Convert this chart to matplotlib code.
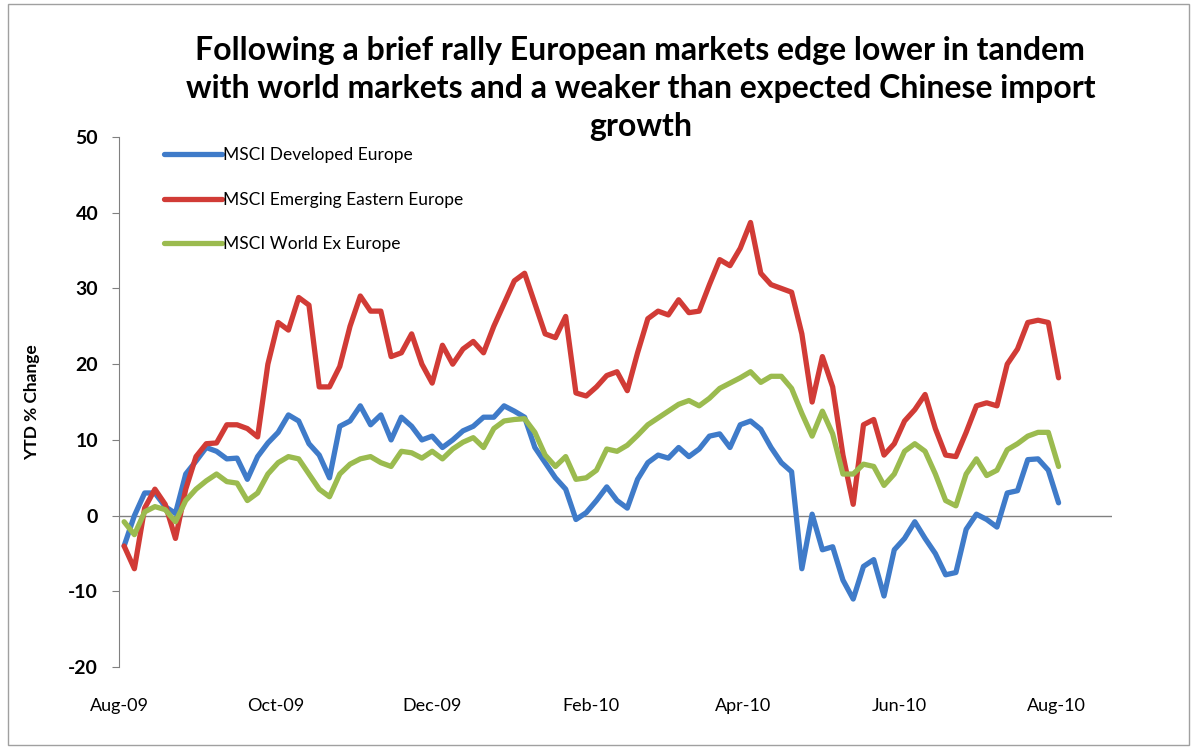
import numpy as np
import pandas as pd
import matplotlib
matplotlib.use("Agg")
import matplotlib.pyplot as plt
import matplotlib.dates as mdates

# fechas: un punto cada 4 dias desde el 3-ago-2009
fechas = pd.date_range("2009-08-03", periods=92, freq="4D")

# MSCI Developed Europe (YTD % change)
desarrollada = [
    -4, 0, 3, 3, 1.2, 0.3, 5.5, 7.2, 9, 8.5,
    7.5, 7.6, 4.8, 7.8, 9.6, 11, 13.3, 12.5, 9.5, 8,
    5, 11.8, 12.5, 14.5, 12, 13.3, 10, 13, 11.8, 10,
    10.5, 9, 10, 11.2, 11.8, 13, 13, 14.5, 13.8, 13,
    9, 7, 5, 3.5, -0.5, 0.4, 2, 3.8, 2, 1.0,
    4.8, 7, 8, 7.6, 9, 7.8, 8.8, 10.5, 10.8, 9,
    12, 12.5, 11.4, 9, 7, 5.8, -7, 0.2, -4.5, -4.1,
    -8.5, -11, -6.7, -5.8, -10.6, -4.5, -3, -0.8, -3, -5,
    -7.8, -7.5, -1.8, 0.2, -0.5, -1.5, 3, 3.3, 7.4, 7.5,
    6, 1.7,
]

# MSCI Emerging Eastern Europe
emergente = [
    -4, -7, 1, 3.5, 1.5, -3, 3.5, 7.8, 9.5, 9.6,
    12, 12, 11.5, 10.4, 20, 25.5, 24.5, 28.8, 27.8, 17,
    17, 19.7, 25, 29, 27, 27, 21, 21.5, 24, 20,
    17.5, 22.5, 20, 22, 23, 21.5, 25, 28, 31, 32,
    28, 24, 23.5, 26.3, 16.2, 15.8, 17, 18.5, 19, 16.5,
    21.5, 26, 27, 26.5, 28.5, 26.8, 27, 30.5, 33.8, 33,
    35.3, 38.7, 32, 30.5, 30, 29.5, 24, 15, 21, 17,
    8, 1.5, 12, 12.7, 8, 9.5, 12.5, 14, 16, 11.5,
    8, 7.8, 11, 14.5, 14.9, 14.5, 20, 22, 25.5, 25.8,
    25.5, 18.2,
]

# MSCI World Ex Europe
mundo = [
    -0.8, -2.5, 0.5, 1.2, 0.8, -0.8, 2, 3.5, 4.6, 5.5,
    4.5, 4.3, 2, 3, 5.5, 7, 7.8, 7.5, 5.5, 3.5,
    2.5, 5.5, 6.8, 7.5, 7.8, 7, 6.5, 8.5, 8.3, 7.6,
    8.5, 7.5, 8.8, 9.7, 10.3, 9, 11.5, 12.5, 12.7, 12.8,
    11, 8, 6.5, 7.8, 4.8, 5, 6, 8.8, 8.5, 9.3,
    10.6, 12, 12.9, 13.8, 14.7, 15.2, 14.5, 15.5, 16.8, 17.5,
    18.2, 19, 17.6, 18.4, 18.4, 16.8, 13.5, 10.5, 13.8, 10.8,
    5.5, 5.5, 6.8, 6.5, 4, 5.5, 8.5, 9.5, 8.5, 5.5,
    2, 1.3, 5.5, 7.5, 5.3, 6, 8.7, 9.5, 10.5, 11,
    11, 6.5,
]

series = ["MSCI Developed Europe", "MSCI Emerging Eastern Europe", "MSCI World Ex Europe"]
colores = ["#3F7BC9", "#D13B36", "#9BBB4F"]

plt.rcParams["font.family"] = ["Lato", "DejaVu Sans"]
plt.rcParams["axes.unicode_minus"] = False

fig = plt.figure(figsize=(11.97, 7.48), dpi=100)
ax = fig.add_axes([0.0994, 0.108, 0.83, 0.709])

for datos, nombre, color in zip([desarrollada, emergente, mundo], series, colores):
    ax.plot(fechas, datos, color=color, linewidth=3.8, label=nombre,
            solid_joinstyle="round", solid_capstyle="round")

ax.axhline(0, color="#808080", linewidth=1, zorder=0)

ax.set_ylim(-20, 50)
ax.set_yticks(range(-20, 51, 10))
ax.set_xlim(pd.Timestamp("2009-08-01"), pd.Timestamp("2010-08-23"))
ax.set_xticks(pd.date_range("2009-08-01", "2010-08-01", freq="2MS"))
ax.xaxis.set_major_formatter(mdates.DateFormatter("%b-%y"))

for lado in ["top", "right", "bottom"]:
    ax.spines[lado].set_visible(False)
ax.spines["left"].set_color("#808080")
ax.tick_params(axis="y", direction="out", length=5, color="#808080",
               labelsize=14, pad=10)
ax.tick_params(axis="x", length=0, labelsize=13, pad=22)
for t in ax.get_yticklabels():
    t.set_fontweight("bold")

ax.set_ylabel("YTD % Change", fontsize=12.5, fontweight="bold", labelpad=20)

leg = ax.legend(loc="upper left", bbox_to_anchor=(0.03, 1.01), frameon=False,
                fontsize=12.5, handlelength=3.3, handletextpad=0.05,
                labelspacing=1.65)

fig.suptitle("Following a brief rally European markets edge lower in tandem\n"
             "with world markets and a weaker than expected Chinese import\n"
             "growth", x=0.535, y=0.952, fontsize=23, fontweight="bold",
             linespacing=1.38)

# marco del grafico
fig.patches.append(plt.Rectangle((0.007, 0.004), 0.986, 0.99, transform=fig.transFigure,
                                 fill=False, edgecolor="#A0A0A0", linewidth=1))

fig.savefig("out.png", dpi=100)
